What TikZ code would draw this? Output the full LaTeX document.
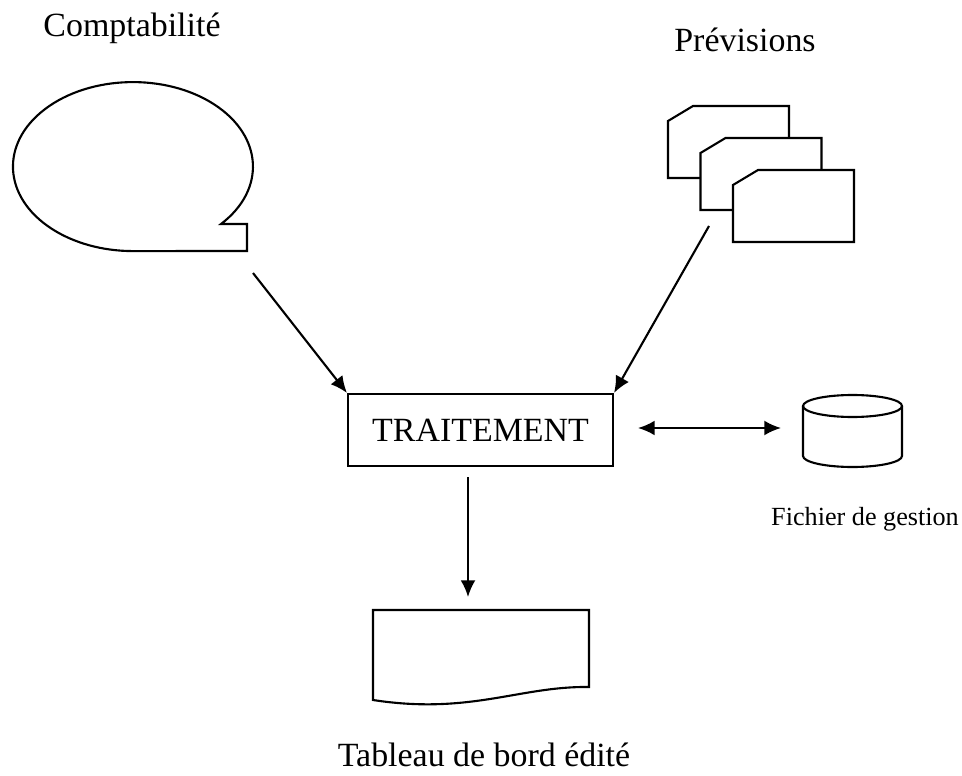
\documentclass[tikz,border=0pt]{standalone}
\usepackage{fontspec}
\setmainfont{Liberation Serif}
\usetikzlibrary{arrows.meta}
\begin{document}
\begin{tikzpicture}[x=0.02cm, y=-0.02cm, line width=1.2pt,
    >={Latex[length=9.5pt,width=8.5pt]},
    bigtext/.style={font=\fontsize{19.3}{23}\selectfont, inner sep=0pt, anchor=base},
    smalltext/.style={font=\fontsize{14.9}{18}\selectfont, inner sep=0pt, anchor=base}]
    \useasboundingbox (0,0) rectangle (962,776);

    % titles
    \node[bigtext] (comptaLbl) at (132,37) {Comptabilité};
    \node[bigtext] (previsLbl) at (745,52) {Prévisions};
    \node[bigtext] (tableauLbl) at (484,766) {Tableau de bord édité};
    \node[smalltext] (fichierLbl) at (865,525) {Fichier de gestion};

    % bande magnetique (comptabilite)
    \draw (221,224) arc[start angle=42.8, end angle=-270, x radius=120, y radius=84.5]
        -- (247,251) -- (247,224) -- cycle;
    \coordinate (comptaOut) at (253,273);

    % cartes perforees (previsions)
    \foreach \cx/\cy in {668/106, 700.5/138, 733/170}
        \draw[fill=white] (\cx,\cy+15) -- (\cx+25,\cy) -- (\cx+121,\cy)
            -- (\cx+121,\cy+72) -- (\cx,\cy+72) -- cycle;
    \coordinate (previsOut) at (709,226);

    % traitement
    \node[draw, minimum width=5.3cm, minimum height=1.44cm, inner sep=0pt,
        font=\fontsize{19.3}{23}\selectfont]
        (trait) at (480.5,430) {TRAITEMENT};
    \coordinate (traitOut) at (468,477);
    \coordinate (traitRight) at (638,428);

    % disque (fichier de gestion)
    \draw (852.5,406) ellipse[x radius=49.5, y radius=11];
    \draw (803,406) -- (803,456) arc[start angle=180, end angle=0, x radius=49.5, y radius=11]
        -- (902,406);
    \coordinate (disque) at (781,428);

    % document (tableau de bord)
    \draw (373,700) -- (373,610) -- (589,610) -- (589,687)
        .. controls (520,686) and (470,715) .. cycle;
    \coordinate (docIn) at (468,597);

    % fleches
    \draw[->] (comptaOut) -- (trait.north west);
    \draw[->] (previsOut) -- (trait.north east);
    \draw[->] (traitOut) -- (docIn);
    \draw[<->] (traitRight) -- (disque);
\end{tikzpicture}
\end{document}
